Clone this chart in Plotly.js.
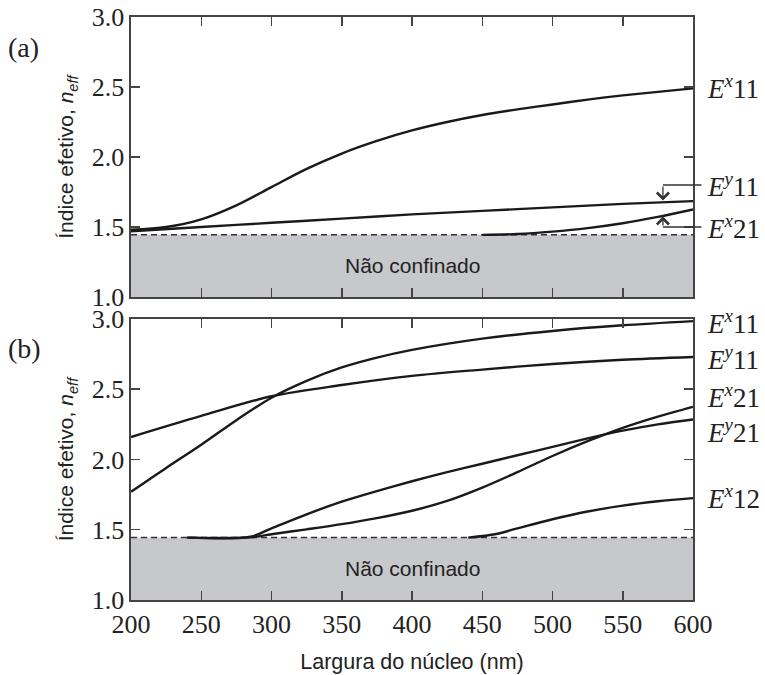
<!DOCTYPE html>
<html><head><meta charset="utf-8">
<script src="https://cdn.plot.ly/plotly-3.0.1.min.js"></script>
<style>html,body{margin:0;padding:0;background:#fff}#chart{width:765px;height:675px}</style>
</head><body><div id="chart"></div>
<script>
// ---------- data ----------
const nClad = 1.444;
const xRange = [200, 600];
const yRange = [1.0, 3.0];
const xTicks = [200, 250, 300, 350, 400, 450, 500, 550, 600];
const yTicks = [1.0, 1.5, 2.0, 2.5, 3.0];

// panel (a)
const aEx11X = [200, 225, 250, 275, 300, 325, 350, 375, 400, 425, 450, 475, 500, 525, 550, 575, 600];
const aEx11Y = [1.48, 1.50, 1.555, 1.655, 1.785, 1.915, 2.025, 2.115, 2.19, 2.25, 2.30, 2.34, 2.375, 2.41, 2.44, 2.465, 2.49];
const aEy11X = [200, 250, 300, 350, 400, 450, 500, 550, 600];
const aEy11Y = [1.47, 1.50, 1.53, 1.56, 1.59, 1.615, 1.64, 1.665, 1.685];
const aEx21X = [450, 475, 500, 525, 550, 575, 600];
const aEx21Y = [1.444, 1.450, 1.467, 1.492, 1.527, 1.572, 1.625];

// panel (b)
const bEx11X = [200, 225, 250, 275, 300, 325, 350, 375, 400, 450, 500, 550, 600];
const bEx11Y = [1.77, 1.94, 2.105, 2.28, 2.44, 2.56, 2.655, 2.725, 2.78, 2.86, 2.915, 2.955, 2.985];
const bEy11X = [200, 250, 300, 350, 400, 450, 500, 550, 600];
const bEy11Y = [2.16, 2.31, 2.45, 2.53, 2.595, 2.64, 2.68, 2.71, 2.73];
const bEx21X = [240, 285, 300, 325, 350, 375, 400, 425, 450, 475, 500, 525, 550, 575, 600];
const bEx21Y = [1.444, 1.446, 1.468, 1.503, 1.54, 1.583, 1.635, 1.705, 1.80, 1.91, 2.025, 2.13, 2.225, 2.305, 2.375];
const bEy21X = [240, 285, 300, 325, 350, 375, 400, 425, 450, 475, 500, 525, 550, 575, 600];
const bEy21Y = [1.444, 1.450, 1.51, 1.61, 1.70, 1.775, 1.845, 1.91, 1.97, 2.03, 2.09, 2.15, 2.205, 2.25, 2.285];
const bEx12X = [440, 460, 475, 500, 525, 550, 575, 600];
const bEx12Y = [1.444, 1.47, 1.51, 1.575, 1.63, 1.672, 1.703, 1.725];

// labels
const labelsA = ['<i>E</i><sup><i>x</i></sup>11', '<i>E</i><sup><i>y</i></sup>11', '<i>E</i><sup><i>x</i></sup>21'];
const labelsB = ['<i>E</i><sup><i>x</i></sup>11', '<i>E</i><sup><i>y</i></sup>11', '<i>E</i><sup><i>x</i></sup>21', '<i>E</i><sup><i>y</i></sup>21', '<i>E</i><sup><i>x</i></sup>12'];
const panelTags = ['(a)', '(b)'];
const regionLabel = 'Não confinado';
const xTitle = 'Largura do núcleo (nm)';
const yTitle = 'Índice efetivo, <i>n</i><sub><i>eff</i></sub>';

// ---------- layout constants ----------
const labelPosA = [2.50, 1.80, 1.50];
const labelPosB = [2.98, 2.72, 2.45, 2.20, 1.735];
const leaderX = 578.6;
const arrowTipA = [1.69, 1.575];

const serif = 'Liberation Serif, Times New Roman, serif';
const sans = 'Liberation Sans, Arial, sans-serif';
const ink = '#1a1a1a';
const frame = '#444';
const grayFill = '#c6c8cb';

function curve(x, y, xa, ya) {
  return {x: x, y: y, xaxis: xa, yaxis: ya, mode: 'lines', type: 'scatter',
    line: {color: ink, width: 2.4, shape: 'spline', smoothing: 0.9}, hoverinfo: 'skip', showlegend: false};
}
function band(xa, ya) {
  return [
    {x: xRange, y: [nClad, nClad], xaxis: xa, yaxis: ya, mode: 'lines', fill: 'tozeroy',
     fillcolor: grayFill, line: {width: 0}, showlegend: false, hoverinfo: 'skip'},
    {x: xRange, y: [nClad, nClad], xaxis: xa, yaxis: ya, mode: 'lines',
     line: {color: '#333', width: 1.5, dash: '6px,4px'}, showlegend: false, hoverinfo: 'skip'}
  ];
}

const traces = [].concat(
  band('x2', 'y2'),
  band('x', 'y'),
  [curve(aEx11X, aEx11Y, 'x2', 'y2'), curve(aEy11X, aEy11Y, 'x2', 'y2'), curve(aEx21X, aEx21Y, 'x2', 'y2')],
  [curve(bEx11X, bEx11Y, 'x', 'y'), curve(bEy11X, bEy11Y, 'x', 'y'), curve(bEx21X, bEx21Y, 'x', 'y'),
   curve(bEy21X, bEy21Y, 'x', 'y'), curve(bEx12X, bEx12Y, 'x', 'y')]
);

const tickFont = {family: serif, size: 26, color: '#222'};
function xAxis(anchor, showLabels) {
  return {range: xRange, anchor: anchor, tickvals: xTicks, ticktext: xTicks.map(String),
    ticks: 'inside', ticklen: 9, tickwidth: 1.5, tickcolor: frame, mirror: 'ticks',
    showline: true, linecolor: frame, linewidth: 1.6, showgrid: false, zeroline: false,
    showticklabels: showLabels, tickfont: tickFont};
}
function yAxis(anchor, domain) {
  return {range: yRange, anchor: anchor, domain: domain, tickvals: yTicks, ticktext: yTicks.map(v => v.toFixed(1)),
    ticks: 'inside', ticklen: 9, tickwidth: 1.5, tickcolor: frame, mirror: 'ticks',
    showline: true, linecolor: frame, linewidth: 1.6, showgrid: false, zeroline: false,
    tickfont: tickFont,
    title: {text: yTitle, font: {family: sans, size: 21, color: '#222'}, standoff: 12}};
}

const annotations = [];
const labelFont = {family: serif, size: 27, color: '#222'};
labelsA.forEach((t, i) => annotations.push({text: t, xref: 'paper', x: 1.0214, xanchor: 'left',
  yref: 'y2', y: labelPosA[i], yanchor: 'middle', showarrow: false, font: labelFont}));
labelsB.forEach((t, i) => annotations.push({text: t, xref: 'paper', x: 1.0214, xanchor: 'left',
  yref: 'y', y: labelPosB[i], yanchor: 'middle', showarrow: false, font: labelFont}));
// leader lines (panel a)
[labelPosA[1], labelPosA[2]].forEach(v => annotations.push({text: '', xref: 'x2', yref: 'y2', x: leaderX, y: v,
  ax: 40, ay: 0, showarrow: true, arrowhead: 0, arrowwidth: 1.3, arrowcolor: '#333', standoff: 0, startstandoff: 0}));
annotations.push({text: '', xref: 'x2', yref: 'y2', x: leaderX, y: arrowTipA[0], axref: 'x2', ayref: 'y2',
  ax: leaderX, ay: labelPosA[1], showarrow: true, arrowhead: 4, arrowsize: 1.8, arrowwidth: 1.3, arrowcolor: '#333', standoff: 0});
annotations.push({text: '', xref: 'x2', yref: 'y2', x: leaderX, y: arrowTipA[1], axref: 'x2', ayref: 'y2',
  ax: leaderX, ay: labelPosA[2], showarrow: true, arrowhead: 4, arrowsize: 1.8, arrowwidth: 1.3, arrowcolor: '#333', standoff: 0});
// region labels
[['x2', 'y2'], ['x', 'y']].forEach(r => annotations.push({text: regionLabel, xref: r[0], yref: r[1],
  x: 400, y: (1 + nClad) / 2, showarrow: false, font: {family: sans, size: 21, color: '#222'}}));
// panel tags
[[0.947, panelTags[0]], [0.432, panelTags[1]]].forEach(p => annotations.push({text: p[1], xref: 'paper', yref: 'paper',
  x: -0.223, y: p[0], xanchor: 'left', yanchor: 'middle', showarrow: false, font: {family: serif, size: 28, color: '#222'}}));

const layout = {
  width: 765, height: 675,
  margin: {l: 131, r: 72, t: 17, b: 75},
  paper_bgcolor: '#fff', plot_bgcolor: '#fff',
  showlegend: false,
  xaxis: Object.assign(xAxis('y', true), {title: {text: xTitle, font: {family: sans, size: 21.5, color: '#222'}, standoff: 16}}),
  yaxis: yAxis('x', [0, 0.482]),
  xaxis2: xAxis('y2', false),
  yaxis2: yAxis('x2', [0.5197, 1]),
  annotations: annotations
};

Plotly.newPlot('chart', traces, layout, {staticPlot: true, displayModeBar: false});
</script>
</body></html>
